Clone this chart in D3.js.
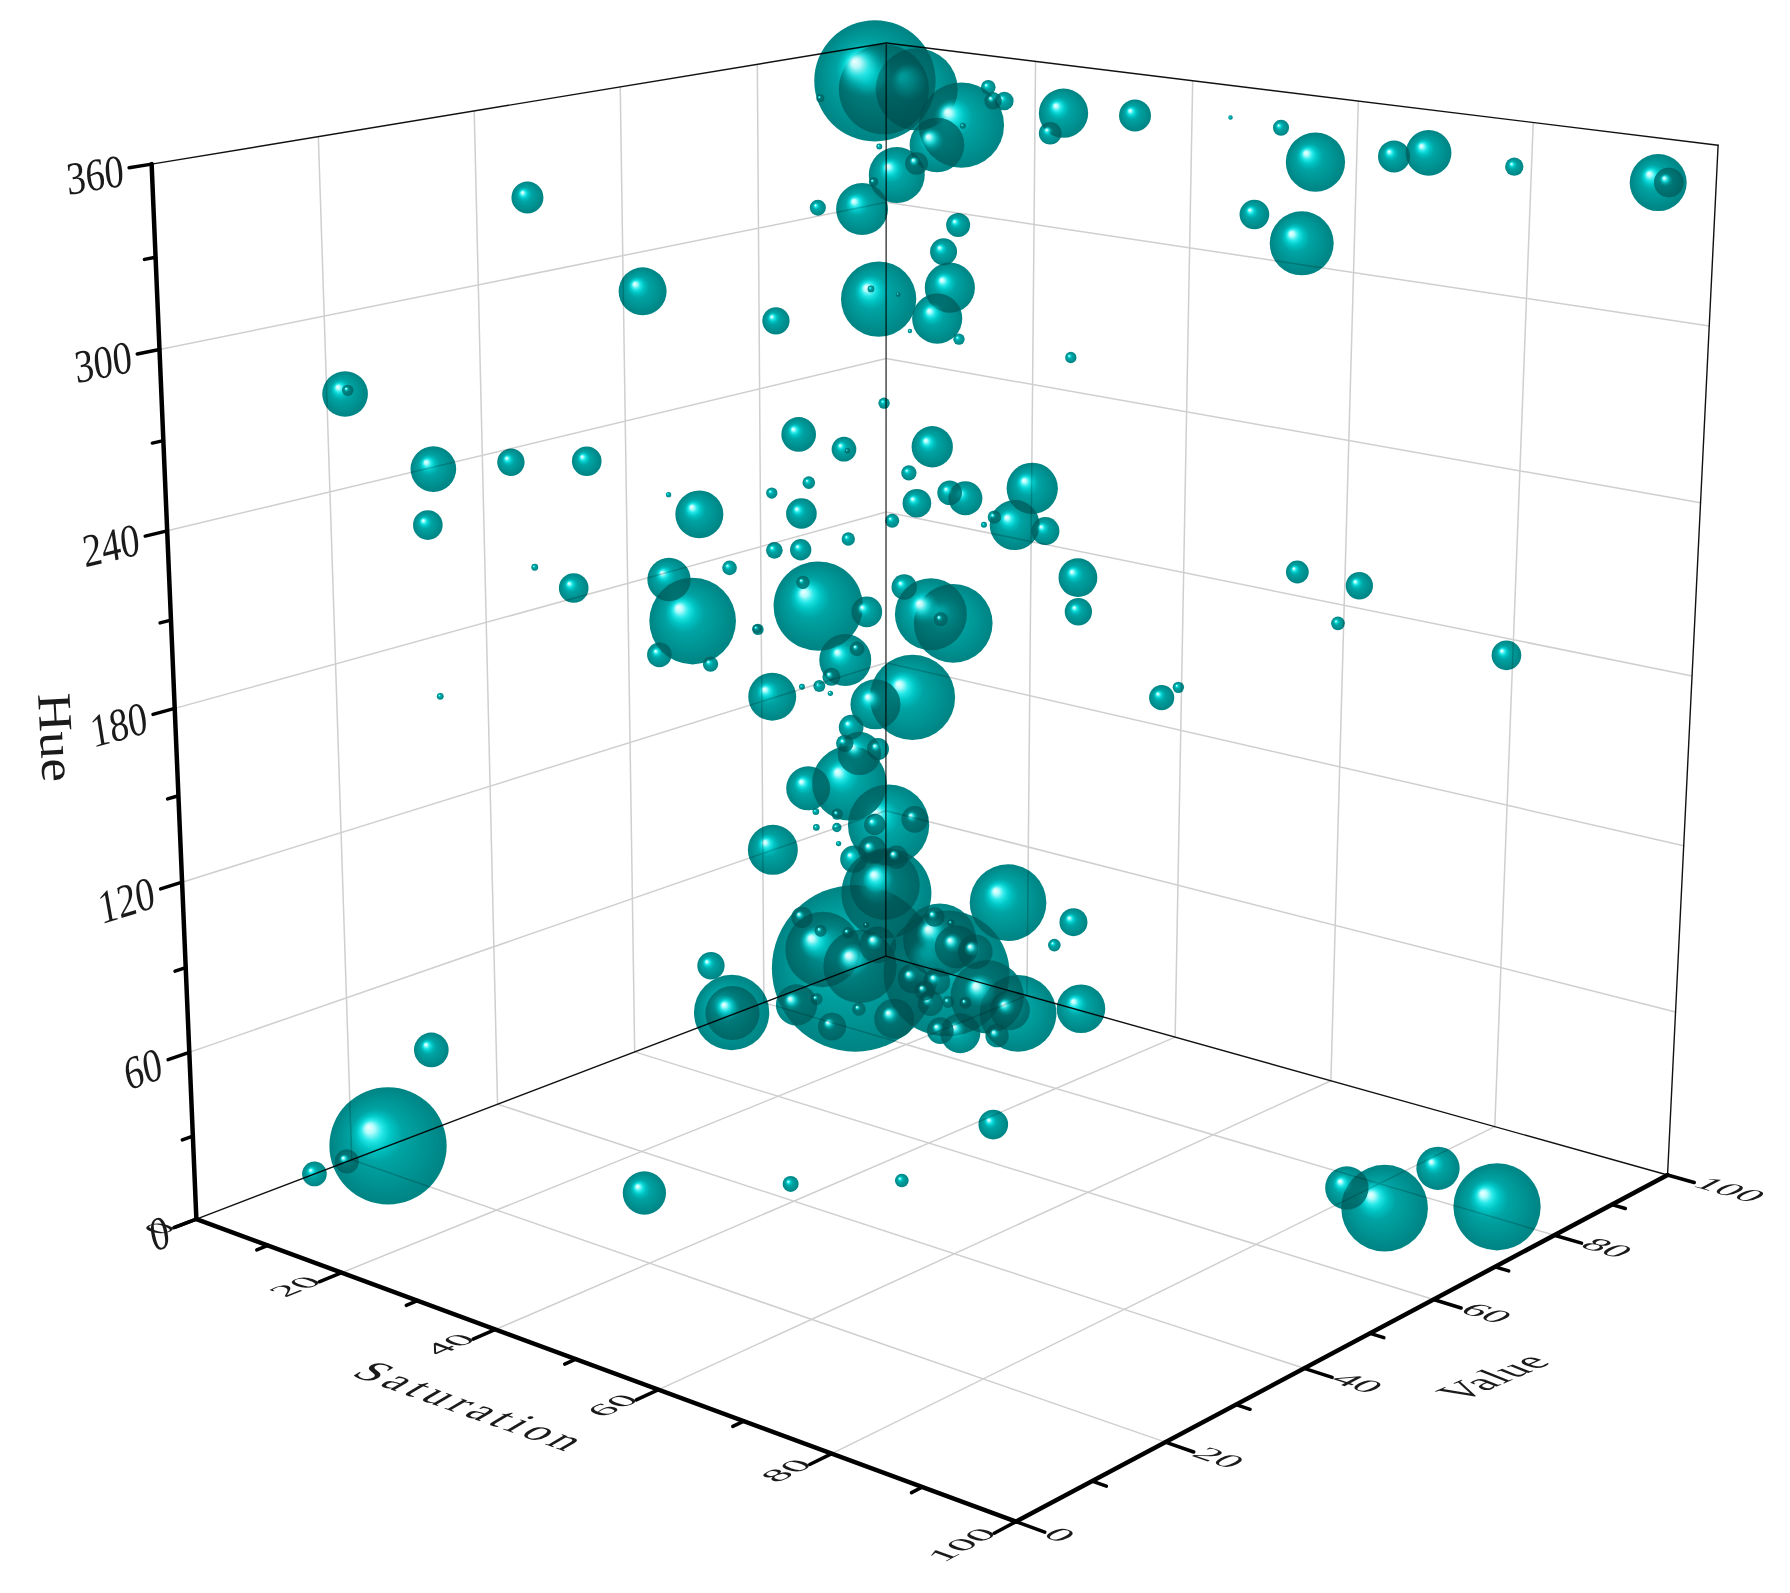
<!DOCTYPE html>
<html>
<head>
<meta charset="utf-8">
<title>Hue Saturation Value</title>
<script src="https://cdn.jsdelivr.net/npm/d3@7"></script>
<style>
    body { margin: 0; background: #fff; }
    svg { display: block; }
    text { font-family: "Liberation Serif", serif; fill: #1a1a1a; }
</style>
</head>
<body>
<svg id="chart" width="1790" height="1593"></svg>
<script>
const saturation = [2.6,7.4,8.6,17.6,1.8,3.4,11.0,10.0,93.2,9.1,86.3,14.9,16.6,14.3,23.3,35.8,31.6,14.3,12.9,16.2,15.7,16.5,24.6,33.6,24.2,18.6,63.9,60.4,95.2,13.7,16.2,16.7,15.4,20.5,
    40.8,30.1,29.6,39.7,23.2,20.6,29.2,48.4,19.4,22.0,18.2,72.8,7.6,11.0,24.8,20.2,27.5,38.1,85.8,88.3,38.5,36.1,29.3,49.5,48.2,40.8,54.0,32.4,29.3,44.8,12.7,44.0,15.1,39.5,
    71.3,32.1,35.5,41.7,97.3,65.7,23.4,15.2,23.0,88.8,67.1,43.6,58.2,39.8,43.7,61.7,40.0,36.4,22.0,63.1,80.8,33.8,44.8,48.1,52.2,57.6,47.6,54.8,71.2,44.2,54.6,33.9,45.8,9.2,
    45.7,12.1,50.8,67.3,81.3,32.1,38.5,51.4,46.8,51.7,47.2,59.4,60.4,27.3,87.2,51.4,26.6,52.8,48.4,39.0,59.3,62.5,60.4,45.0,23.1,47.4,56.9,60.2,66.2,88.0,74.9,73.2,58.6,
    55.7,62.9,56.7,79.6,58.1,58.5,72.9,75.1,60.3,73.6,82.5,18.8,66.4,86.8,57.8,57.1,64.0,65.2,43.7,65.1,58.6,16.0,77.7,69.7,38.7,29.3,65.8,66.2,36.2,36.3,84.0,66.5,72.5,71.2,
    20.0,40.0,30.0,50.0,40.0,45.0];
const value = [96.6,96.2,85.0,89.4,96.1,21.7,87.3,77.7,80.5,59.8,71.8,94.4,84.9,83.8,83.4,79.0,82.4,73.4,60.9,80.0,76.0,76.7,79.9,76.7,78.8,78.2,85.8,92.6,97.8,85.7,89.0,56.9,78.4,69.9,
    74.3,74.5,73.2,73.0,71.4,58.8,93.1,73.3,49.9,57.3,43.7,93.4,15.3,22.9,59.4,44.7,64.0,66.4,66.2,77.6,21.0,64.8,52.5,60.8,54.9,53.8,64.9,61.1,53.2,61.2,19.0,60.3,31.8,91.4,
    89.9,50.4,55.9,55.5,96.2,75.7,30.5,18.0,28.9,85.3,36.9,53.7,54.7,51.7,41.4,55.1,48.8,42.2,22.1,53.5,72.6,35.4,56.0,48.2,46.6,40.7,47.2,42.6,55.6,42.7,45.3,28.8,41.8,6.8,
    57.0,8.3,42.4,37.1,62.1,67.1,79.4,39.1,33.8,38.3,33.3,37.7,35.1,86.1,86.0,32.7,85.2,32.9,28.5,45.1,88.4,14.5,32.8,23.7,88.7,23.7,29.9,30.8,30.3,59.1,15.0,29.0,26.8,
    24.1,23.2,23.8,29.8,23.5,23.1,23.5,23.2,20.5,23.7,27.5,5.3,22.5,37.4,17.8,16.7,19.1,19.1,47.4,17.8,14.9,71.5,18.1,17.0,8.2,5.5,14.3,13.9,56.9,68.9,14.5,11.8,13.1,12.3,
    45.0,45.5,58.0,92.9,55.2,51.0];
const hue = [345.0,346.9,16.1,17.2,348.1,6.5,46.0,164.9,3.3,171.7,5.9,337.2,128.8,78.5,162.5,26.5,62.6,39.1,25.4,281.1,102.3,31.1,44.9,33.3,169.8,63.2,319.1,342.3,346.8,322.4,332.8,32.3,314.2,157.0,
    228.7,294.5,284.0,215.8,141.1,95.3,347.4,44.3,223.4,154.1,304.1,349.9,280.2,252.0,120.7,204.4,131.7,65.7,18.9,15.9,22.4,246.9,50.1,56.9,53.2,53.3,211.2,66.8,254.8,74.1,52.7,236.1,340.4,351.1,
    349.7,230.6,194.3,67.2,348.4,334.6,256.6,238.6,214.3,191.1,55.5,238.5,236.7,115.8,65.1,103.8,115.2,303.4,260.8,213.2,219.2,84.5,323.0,135.8,83.2,76.1,216.6,81.5,187.8,264.2,253.7,198.4,171.5,17.5,
    331.8,23.0,129.6,86.1,231.5,342.3,349.7,170.0,238.0,145.1,114.1,119.8,97.7,354.0,354.3,199.4,354.2,177.9,242.4,340.5,355.5,55.0,271.5,206.3,356.3,239.4,214.3,257.3,229.5,220.8,67.1,267.1,253.2,
    239.4,105.1,272.1,133.6,207.8,127.8,115.5,117.3,108.9,325.5,322.1,293.0,303.0,215.6,273.3,230.5,173.9,136.2,349.8,171.5,233.0,357.0,150.1,342.5,245.2,199.3,180.1,175.7,354.2,356.0,280.6,222.1,150.0,297.2,
    233.9,176.4,105.3,353.6,306.9,299.2];
const bubbleSize = [54.0,49.2,100.0,75.6,72.8,70.4,54.0,53.6,52.4,52.0,52.0,51.2,51.2,48.8,47.2,46.0,46.0,45.2,45.2,45.2,44.8,44.0,44.0,44.0,43.2,42.0,38.4,35.6,34.2,33.6,32.8,32.4,31.2,31.2,
    30.8,30.1,30.1,30.0,30.0,30.0,29.6,29.2,28.8,28.8,28.8,27.4,27.4,27.4,26.4,26.0,26.0,26.0,26.0,26.0,26.0,24.8,24.8,24.0,24.0,24.0,23.3,22.0,20.8,20.8,20.8,20.4,19.2,19.2,
    19.2,18.4,18.4,18.0,17.8,17.8,17.8,17.8,17.8,17.8,17.8,17.2,16.8,16.8,16.8,16.8,16.4,16.4,16.4,16.4,16.4,16.4,16.2,16.0,16.0,16.0,15.2,15.2,15.1,14.8,14.8,14.8,14.8,14.8,
    14.4,14.4,14.0,14.0,13.7,13.6,13.6,13.2,12.8,12.8,12.8,12.0,12.0,11.2,11.0,10.8,10.4,10.4,10.0,9.6,9.6,9.6,9.2,9.2,8.8,8.8,8.8,8.4,8.4,8.2,8.2,8.0,8.0,
    8.0,8.0,7.6,7.6,7.2,7.2,7.2,7.2,7.2,6.8,6.8,6.8,6.8,6.8,6.8,6.8,6.8,6.8,5.6,5.6,5.5,4.8,4.4,4.1,4.1,4.1,4.0,4.0,3.6,3.6,3.6,3.6,3.6,3.2,
    3.2,3.2,3.2,2.7,2.7,2.7];

const svTicks = [0, 20, 40, 60, 80, 100];
const svMinor = [10, 30, 50, 70, 90];
const hueTicks = [0, 60, 120, 180, 240, 300, 360];
const hueMinor = [30, 90, 150, 210, 270, 330];

const svg = d3.select('#chart');

const xS = d3.scaleLinear().domain([0, 100]).range([0, 1]);
const xV = d3.scaleLinear().domain([0, 100]).range([0, 1]);
const xH = d3.scaleLinear().domain([0, 360]).range([0, 1]);
const radius = d3.scaleLinear().domain([0, 100]).range([0, 83.3]);

// camera fitted to the corners of the box
const cam = [
    [679.45046, 834.29909, -54.11338, 196.38092],
    [92.54933, -106.5652, -1065.0393, 1219.04262],
    [-0.13802, 0.16356, -0.06168, 1]
];

function project(s, v, h) {
    const a = xS(s), b = xV(v), c = xH(h);
    const w = cam[2][0]*a + cam[2][1]*b + cam[2][2]*c + 1;
    return [
        (cam[0][0]*a + cam[0][1]*b + cam[0][2]*c + cam[0][3]) / w,
        (cam[1][0]*a + cam[1][1]*b + cam[1][2]*c + cam[1][3]) / w
    ];
}

function unit(p, q) {
    const l = Math.hypot(q[0]-p[0], q[1]-p[1]);
    return [(q[0]-p[0])/l, (q[1]-p[1])/l];
}

function segment(g, a, b, width, color) {
    const p = project(...a), q = project(...b);
    g.append('line')
        .attr('x1', p[0]).attr('y1', p[1])
        .attr('x2', q[0]).attr('y2', q[1])
        .attr('stroke', color)
        .attr('stroke-width', width)
        .attr('stroke-linecap', 'round');
}

// text lying in a plane: u runs along the text, w runs down the glyphs
function planeText(g, str, p, u, w, size, sx, sy, anchor) {
    return g.append('text')
        .attr('transform', `matrix(${u[0]*sx},${u[1]*sx},${w[0]*sy},${w[1]*sy},${p[0]},${p[1]})`)
        .attr('text-anchor', anchor)
        .attr('font-size', size)
        .text(str);
}

function sphereGradient(id, stops) {
    const grad = defs.append('radialGradient')
        .attr('id', id)
        .attr('cx', 0.5).attr('cy', 0.5).attr('r', 0.5)
        .attr('fx', 0.33).attr('fy', 0.34);
    stops.forEach(d => grad.append('stop')
        .attr('offset', d[0])
        .attr('stop-color', d[1])
        .attr('stop-opacity', d[2]));
}

const defs = svg.append('defs');
sphereGradient('body', [[0, '#00d0d0', 1], [0.3, '#00b0b0', 1], [0.45, '#00a0a0', 1], [0.7, '#008f8f', 1], [1, '#007b7b', 1]]);
sphereGradient('shine', [[0, '#f0ffff', 1], [0.08, '#c0ffff', 0.95], [0.18, '#30f0f0', 0.85], [0.3, '#00dcdc', 0.45], [0.45, '#00c8c8', 0]]);

// lifts the dark end, so that stacked bubbles stop at a deep teal
const lift = defs.append('filter')
    .attr('id', 'lift')
    .attr('filterUnits', 'userSpaceOnUse')
    .attr('x', 0).attr('y', 0).attr('width', 1790).attr('height', 1593)
    .attr('color-interpolation-filters', 'sRGB');
const transfer = lift.append('feComponentTransfer');
['feFuncG', 'feFuncB'].forEach(f => transfer.append(f)
    .attr('type', 'table')
    .attr('tableValues', '0.30 0.33 0.40 0.47 0.53 0.64 0.75 0.875 1'));

const grid = svg.append('g');
const gridColor = '#cfcfcf';

svTicks.slice(1, -1).forEach(t => {
    segment(grid, [t, 0, 0], [t, 100, 0], 1.5, gridColor);
    segment(grid, [0, t, 0], [100, t, 0], 1.5, gridColor);
    segment(grid, [0, t, 0], [0, t, 360], 1.5, gridColor);
    segment(grid, [t, 100, 0], [t, 100, 360], 1.5, gridColor);
});
hueTicks.slice(1, -1).forEach(t => {
    segment(grid, [0, 0, t], [0, 100, t], 1.5, gridColor);
    segment(grid, [0, 100, t], [100, 100, t], 1.5, gridColor);
});

const frame = svg.append('g');
segment(frame, [0, 0, 0], [0, 100, 0], 1.4, '#111');
segment(frame, [0, 100, 0], [100, 100, 0], 1.4, '#111');
segment(frame, [0, 0, 360], [0, 100, 360], 1.4, '#111');
segment(frame, [0, 100, 360], [100, 100, 360], 1.4, '#111');
segment(frame, [100, 100, 0], [100, 100, 360], 1.4, '#111');
segment(frame, [0, 100, 0], [0, 100, 360], 1.6, '#555');

const axes = svg.append('g');
segment(axes, [0, 0, 0], [0, 0, 360], 4.5, '#000');
segment(axes, [0, 0, 0], [100, 0, 0], 4.5, '#000');
segment(axes, [100, 0, 0], [100, 100, 0], 4.5, '#000');

hueTicks.forEach(t => segment(axes, [0, 0, t], [0, -2.6, t], 3.5, '#000'));
hueMinor.forEach(t => segment(axes, [0, 0, t], [0, -1.3, t], 3.5, '#000'));
svTicks.forEach(t => {
    segment(axes, [t, 0, 0], [t, -2.8, 0], 3.5, '#000');
    segment(axes, [100, t, 0], [103, t, 0], 3.5, '#000');
});
svMinor.forEach(t => {
    segment(axes, [t, 0, 0], [t, -1.4, 0], 3.5, '#000');
    segment(axes, [100, t, 0], [101.5, t, 0], 3.5, '#000');
});

const labels = svg.append('g');
hueTicks.forEach(t => {
    const end = project(0, -2.6, t);
    const u = unit(project(0, 0, t), project(0, 10, t));
    planeText(labels, t, [end[0] - 4*u[0], end[1] - 4*u[1] + 17], u, [-u[1]*0.6, 1], 46, 0.84, 1, 'end');
});
svTicks.forEach(t => {
    const end = project(t, -2.8, 0);
    const u = unit(project(t, 0, 0), project(t, 10, 0));
    const w = unit(project(t, 0, 0), project(t + 10, 0, 0));
    planeText(labels, t, [end[0] + 2*u[0] + 3*w[0], end[1] + 2*u[1] + 3*w[1]], u, w, 40, 1.05, 0.75, 'end');
});
svTicks.forEach(t => {
    const end = project(103, t, 0);
    const u = unit(project(100, t, 0), project(110, t, 0));
    const up = unit(project(100, t, 0), project(100, t + 10, 0));
    const w = [-up[0], -up[1]];
    planeText(labels, t, [end[0] + 2*u[0] + 6*w[0], end[1] + 2*u[1] + 6*w[1]], u, w, 40, 1.05, 0.75, 'start');
});

labels.append('text')
    .attr('transform', 'translate(38,694) rotate(87) scale(1.11,1)')
    .attr('font-size', 48)
    .text('Hue');
planeText(labels, 'Saturation', [350, 1375], [0.942, 0.335], [-0.86, 0.5], 44, 1, 1, 'start')
    .attr('textLength', 228)
    .attr('lengthAdjust', 'spacing');
planeText(labels, 'Value', [1461, 1402], [0.919, -0.394], [0.93, 0.37], 46, 0.9, 0.95, 'start')
    .attr('textLength', 110)
    .attr('lengthAdjust', 'spacing');

// each bubble: a body that multiplies so overlaps read darker, then a shine painted over it
const bubbles = saturation.map((s, i) => ({ s, v: value[i], h: hue[i], size: bubbleSize[i] }));
const ball = svg.append('g')
    .attr('filter', 'url(#lift)')
    .style('mix-blend-mode', 'multiply')
    .selectAll('g')
    .data(bubbles)
    .join('g')
    .attr('transform', d => `translate(${project(d.s, d.v, d.h)})`);

ball.append('circle')
    .attr('r', d => radius(d.size))
    .attr('fill', 'url(#body)')
    .style('mix-blend-mode', 'multiply');
ball.append('circle')
    .attr('r', d => radius(d.size))
    .attr('fill', 'url(#shine)');
</script>
</body>
</html>
